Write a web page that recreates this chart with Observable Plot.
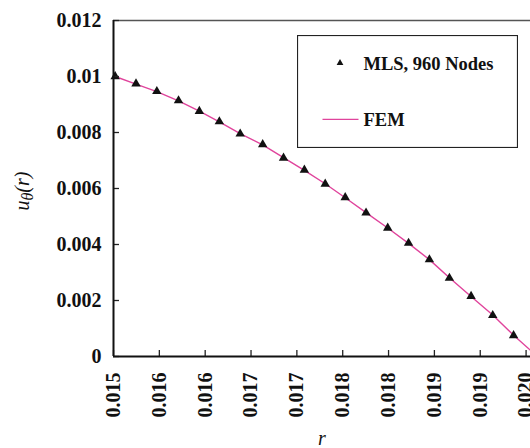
<!DOCTYPE html>
<html><head><meta charset="utf-8">
<script src="https://cdn.jsdelivr.net/npm/d3@7"></script>
<script src="https://cdn.jsdelivr.net/npm/@observablehq/plot@0.6"></script>
<style>
body{margin:0;background:#fff;}
#wrap{position:relative;width:530px;height:448px;overflow:hidden;}
#wrap svg{display:block;}
#legend{position:absolute;left:297px;top:35px;}
</style></head><body><div id="wrap"></div><script>
// ---- data ----
const rMLS = [0.01502, 0.01527, 0.01552, 0.01578, 0.01603, 0.01627, 0.01652, 0.01679, 0.01704, 0.01729,
              0.01754, 0.01778, 0.01803, 0.01829, 0.01854, 0.01879, 0.01903, 0.01929, 0.01955, 0.01980];
const uMLS = [0.01000, 0.00974, 0.00947, 0.00914, 0.00876, 0.00839, 0.00795, 0.00757, 0.00709, 0.00666,
              0.00616, 0.00568, 0.00513, 0.00459, 0.00405, 0.00346, 0.00280, 0.00215, 0.00147, 0.00075];
const rFEM = [0.01502, 0.01527, 0.01552, 0.01578, 0.01603, 0.01627, 0.01652, 0.01679, 0.01704, 0.01729,
              0.01754, 0.01778, 0.01803, 0.01829, 0.01854, 0.01879, 0.01903, 0.01929, 0.01955, 0.01980, 0.02003];
const uFEM = [0.01000, 0.00973, 0.00946, 0.00913, 0.00876, 0.00838, 0.00796, 0.00756, 0.00710, 0.00665,
              0.00617, 0.00567, 0.00514, 0.00459, 0.00404, 0.00346, 0.00281, 0.00214, 0.00148, 0.00076, 0.00015];
const xTicks = [0.015, 0.01555, 0.0161, 0.01665, 0.0172, 0.01775, 0.0183, 0.01885, 0.0194, 0.01995];
const xTickLabels = ["0.015","0.016","0.016","0.017","0.017","0.018","0.018","0.019","0.019","0.020"];
const yTicks = [0, 0.002, 0.004, 0.006, 0.008, 0.01, 0.012];
const yTickLabels = ["0","0.002","0.004","0.006","0.008","0.01","0.012"];
const seriesNames = ["MLS, 960 Nodes", "FEM"];
const xTitle = "r";

const mls = rMLS.map((r, i) => ({r, u: uMLS[i]}));
const fem = rFEM.map((r, i) => ({r, u: uFEM[i]}));
const FEMCOLOR = "#e0449c";
const serif = "Liberation Serif, Times New Roman, serif";
const tickFont = {fontFamily: serif, fontWeight: "bold", fontSize: 20, fill: "#111"};

const chart = Plot.plot({
  width: 530, height: 448,
  marginLeft: 113, marginRight: 0, marginTop: 20, marginBottom: 92,
  x: {domain: [0.015, 0.020003], axis: null},
  y: {domain: [0, 0.012], axis: null},
  style: {background: "white", overflow: "visible"},
  marks: [
    Plot.ruleY([0.012], {stroke: "#555", strokeWidth: 1.3}),
    Plot.line(fem, {x: "r", y: "u", stroke: FEMCOLOR, strokeWidth: 1.4, clip: true}),
    Plot.dot(mls, {x: "r", y: "u", symbol: "triangle", r: 3.5, fill: "#111", stroke: "none"}),
    Plot.ruleX(xTicks, {x: d => d, y1: 0, y2: 0, insetTop: -6, stroke: "#222", strokeWidth: 1.3}),
    Plot.ruleY(yTicks, {y: d => d, x1: 0.015, x2: 0.015, insetRight: -6, stroke: "#222", strokeWidth: 1.3}),
    Plot.ruleY([0], {stroke: "#111", strokeWidth: 2}),
    Plot.ruleX([0.015], {stroke: "#111", strokeWidth: 2}),
    Plot.text(xTicks, {x: d => d, frameAnchor: "bottom", text: (d, i) => xTickLabels[i], rotate: -90,
      textAnchor: "end", lineAnchor: "middle", dy: 16, ...tickFont}),
    Plot.text(yTicks, {y: d => d, frameAnchor: "left", text: (d, i) => yTickLabels[i],
      textAnchor: "end", lineAnchor: "middle", dx: -12, ...tickFont}),
    Plot.text([xTitle], {frameAnchor: "bottom", text: d => d, lineAnchor: "bottom", dy: 88,
      fontFamily: serif, fontStyle: "italic", fontSize: 20, fill: "#111"})
  ]
});
document.getElementById("wrap").appendChild(chart);

// y-axis title with subscript
const yt = d3.select(chart).append("text")
  .attr("transform", "translate(29,191) rotate(-90)")
  .attr("text-anchor", "middle")
  .style("font-family", serif).style("font-style", "italic").style("font-size", "20px").attr("fill", "#111");
yt.append("tspan").text("u");
yt.append("tspan").attr("dy", 4).style("font-size", "16px").text("θ");
yt.append("tspan").attr("dy", -4).text("(r)");

// legend
const lg = d3.select("#wrap").append("svg").attr("id", "legend").attr("width", 221).attr("height", 113);
lg.append("rect").attr("x", 0.5).attr("y", 0.5).attr("width", 220).attr("height", 112)
  .attr("fill", "white").attr("stroke", "#222").attr("stroke-width", 1.2);
lg.append("path").attr("d", d3.symbol(d3.symbolTriangle, Math.PI * 2.5 * 2.5)())
  .attr("transform", "translate(43,28)").attr("fill", "#111");
lg.append("line").attr("x1", 25.5).attr("x2", 61.5).attr("y1", 84.3).attr("y2", 84.3)
  .attr("stroke", FEMCOLOR).attr("stroke-width", 1.3);
lg.selectAll("text.lab").data(seriesNames).join("text").attr("class", "lab")
  .attr("x", 66.5).attr("y", (d, i) => i === 0 ? 35 : 91)
  .style("font-family", serif).style("font-weight", "bold").style("font-size", "18.5px")
  .attr("fill", "#111").text(d => d);
</script></body></html>
